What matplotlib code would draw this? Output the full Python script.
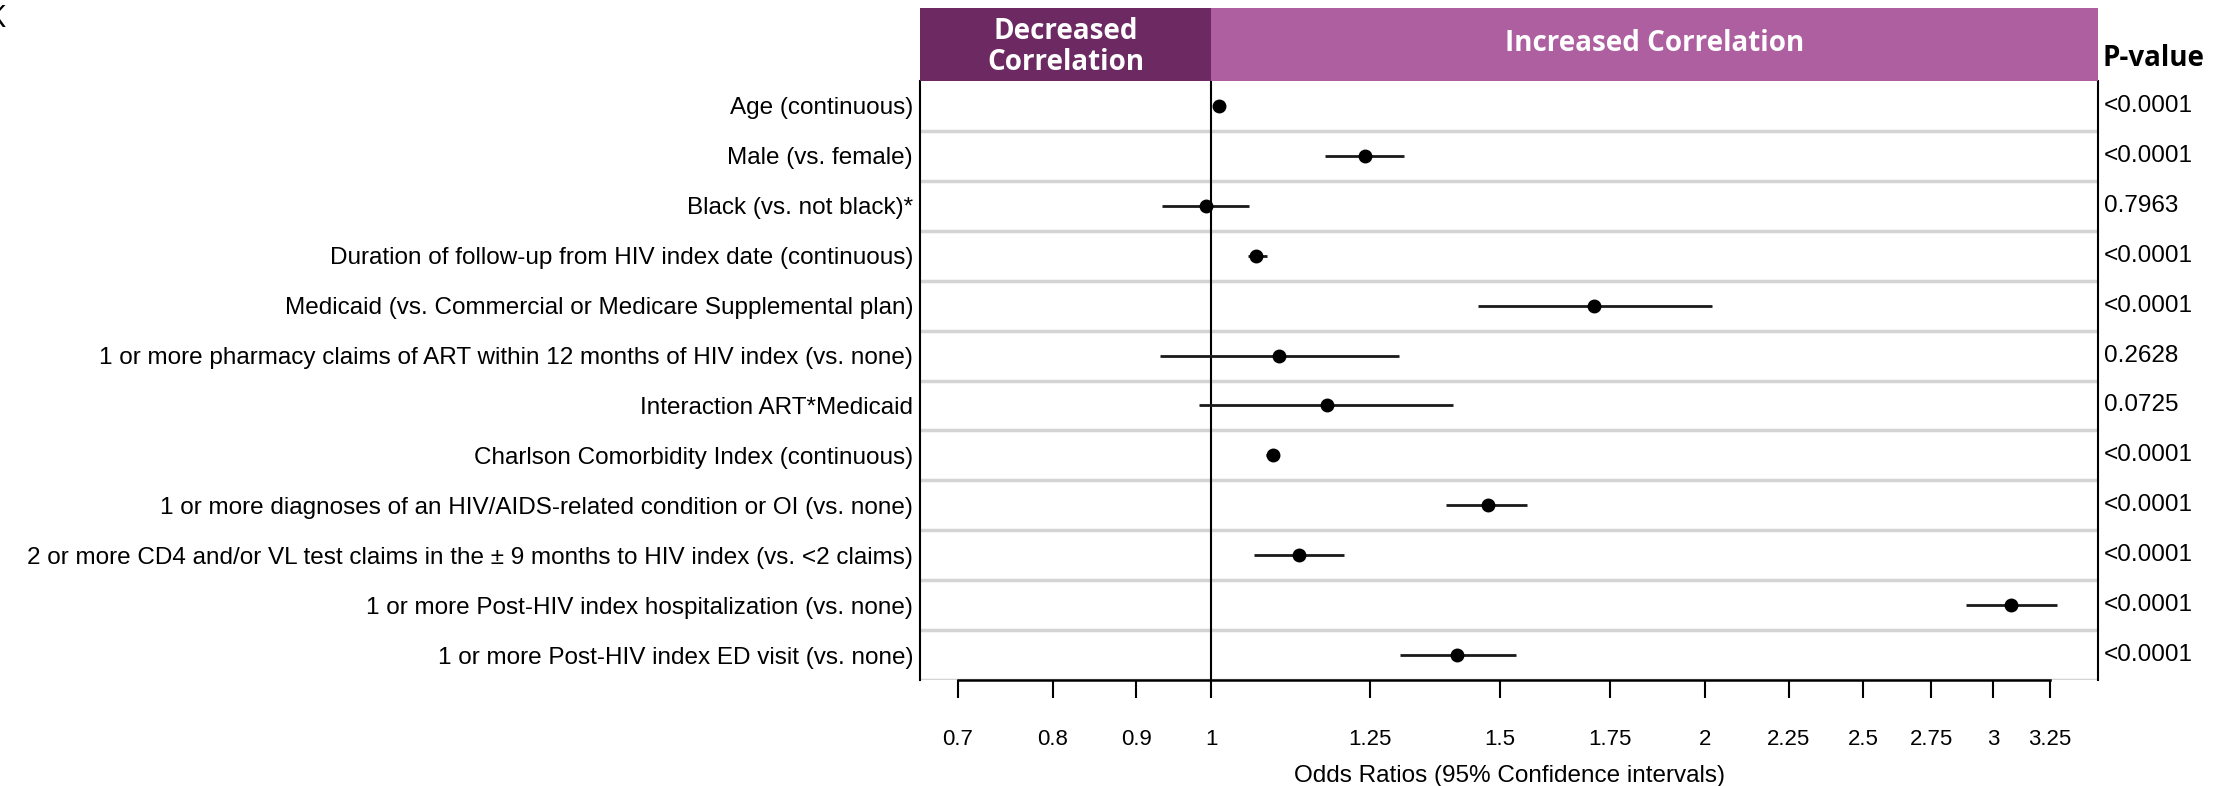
import numpy as np
import matplotlib
matplotlib.use("Agg")
import matplotlib.pyplot as plt
from matplotlib.transforms import blended_transform_factory


# Forest plot data
labels = [
    "Age (continuous)",
    "Male (vs. female)",
    "Black (vs. not black)*",
    "Duration of follow-up from HIV index date (continuous)",
    "Medicaid (vs. Commercial or Medicare Supplemental plan)",
    "1 or more pharmacy claims of ART within 12 months of HIV index (vs. none)",
    "Interaction ART*Medicaid",
    "Charlson Comorbidity Index (continuous)",
    "1 or more diagnoses of an HIV/AIDS-related condition or OI (vs. none)",
    "2 or more CD4 and/or VL test claims in the \u00b1 9 months to HIV index (vs. <2 claims)",
    "1 or more Post-HIV index hospitalization (vs. none)",
    "1 or more Post-HIV index ED visit (vs. none)",
]
odds_ratio = [1.010, 1.240, 0.992, 1.065, 1.713, 1.099, 1.176, 1.090, 1.474, 1.131, 3.074, 1.412]
ci_low = [1.005, 1.173, 0.933, 1.053, 1.455, 0.930, 0.982, 1.080, 1.390, 1.061, 2.889, 1.303]
ci_high = [1.015, 1.311, 1.054, 1.081, 2.020, 1.302, 1.405, 1.100, 1.559, 1.205, 3.279, 1.535]
p_values = ["<0.0001", "<0.0001", "0.7963", "<0.0001", "<0.0001", "0.2628",
            "0.0725", "<0.0001", "<0.0001", "<0.0001", "<0.0001", "<0.0001"]

tick_vals = [0.7, 0.8, 0.9, 1, 1.25, 1.5, 1.75, 2, 2.25, 2.5, 2.75, 3, 3.25]
tick_labels = ["0.7", "0.8", "0.9", "1", "1.25", "1.5", "1.75", "2", "2.25", "2.5", "2.75", "3", "3.25"]

x_min, x_max = 0.664, 3.476

dark_purple = "#6d2a62"
light_purple = "#ae5fa0"

plt.rcParams["font.family"] = ["Liberation Sans", "DejaVu Sans"]

fig = plt.figure(figsize=(22.31, 7.86), dpi=100)

left, right = 0.4124, 0.9404
bottom, top = 0.1349, 0.8969
ax = fig.add_axes([left, bottom, right - left, top - bottom])

y = np.arange(1, len(labels) + 1)
orr = np.array(odds_ratio)
lo = np.array(ci_low)
hi = np.array(ci_high)

ax.set_xscale("log")
ax.set_xlim(x_min, x_max)
ax.set_ylim(len(labels) + 0.5, 0.5)

# row separators
for k in range(1, len(labels) + 1):
    ax.axhline(k + 0.5, color="#d4d4d4", lw=2.5, zorder=1)

ax.axvline(1, color="black", lw=1.5, zorder=2)

ax.errorbar(orr, y, xerr=[orr - lo, hi - orr], fmt="o", color="black",
            ecolor="#1a1a1a", elinewidth=2, capsize=0, ms=9, zorder=3)

ax.set_yticks(y)
ax.set_yticklabels(labels, fontsize=17.5)
ax.tick_params(axis="y", length=0, pad=5)

ax.xaxis.set_minor_locator(matplotlib.ticker.NullLocator())
ax.set_xticks(tick_vals)
ax.set_xticklabels(tick_labels, fontsize=16)
ax.tick_params(axis="x", direction="out", length=13, width=1.5, pad=22)
ax.set_xlabel("Odds Ratios (95% Confidence intervals)", fontsize=17.5, labelpad=11)

ax.spines["top"].set_visible(False)
ax.spines["bottom"].set_bounds(0.7, 3.25)
ax.spines["bottom"].set_linewidth(1.8)
ax.spines["left"].set_linewidth(1.5)
ax.spines["right"].set_linewidth(1.5)

# p-values on the right
trans = blended_transform_factory(ax.transAxes, ax.transData)
for yi, p in zip(y, p_values):
    ax.text(1.005, yi, p, transform=trans, ha="left", va="center", fontsize=17.5)

# header band
hax = fig.add_axes([left, top, right - left, 0.9898 - top])
hax.set_xscale("log")
hax.set_xlim(x_min, x_max)
hax.set_ylim(0, 1)
hax.axvspan(x_min, 1, color=dark_purple, lw=0)
hax.axvspan(1, x_max, color=light_purple, lw=0)
hax.axis("off")
hax.text(np.sqrt(x_min * 1), 0.47, "Decreased\nCorrelation", ha="center", va="center",
         color="white", fontsize=20, fontweight="bold", family=["Open Sans", "DejaVu Sans"],
         linespacing=1.1)
hax.text(np.sqrt(x_max), 0.52, "Increased Correlation", ha="center", va="center",
         color="white", fontsize=20, fontweight="bold", family=["Open Sans", "DejaVu Sans"])

fig.text(right + 0.002, 0.925, "P-value", ha="left", va="center", fontsize=20,
         fontweight="bold", family=["Open Sans", "DejaVu Sans"])

fig.text(0.0027, 0.995, "K", ha="right", va="top", fontsize=22,
         family=["Open Sans", "DejaVu Sans"])

fig.savefig("out.png", dpi=100)
